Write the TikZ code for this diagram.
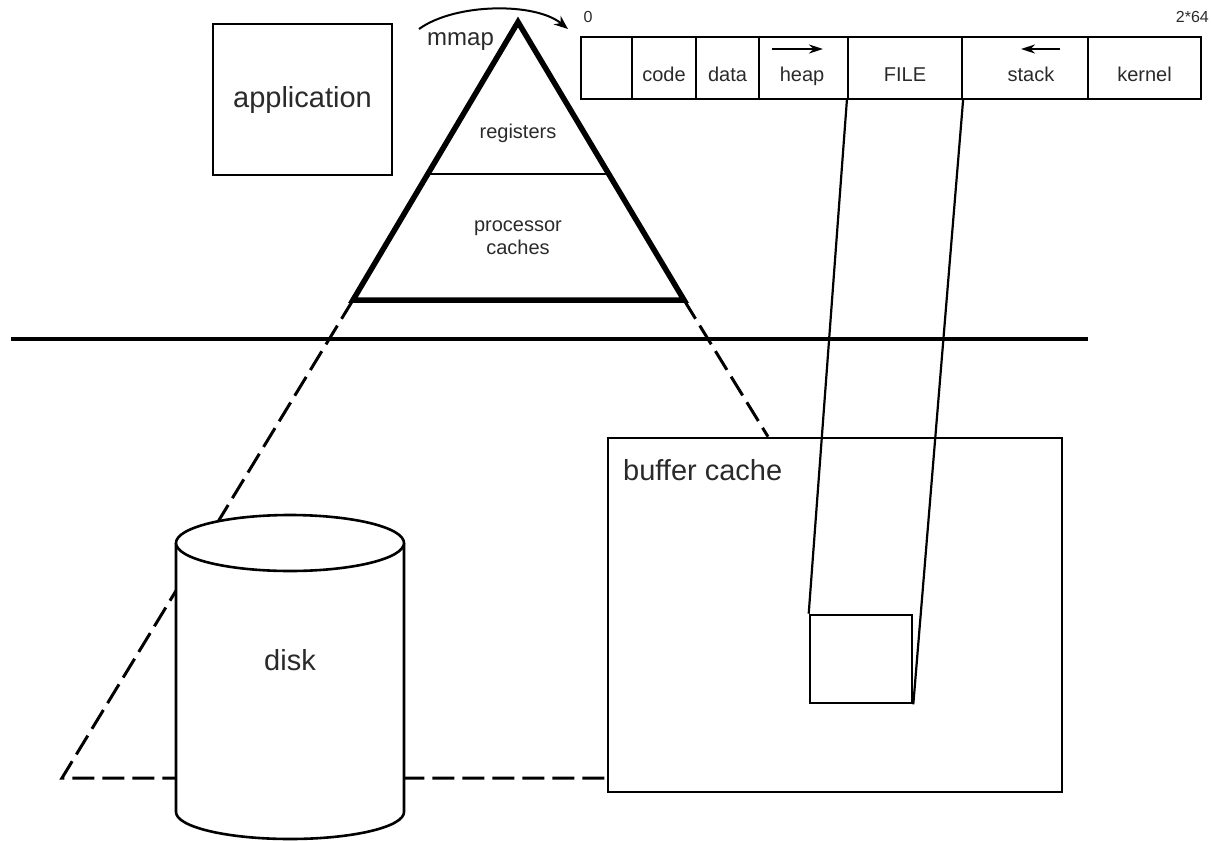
\documentclass[tikz,border=0pt]{standalone}
\usepackage{fontspec}
\setmainfont{Liberation Sans}
\usetikzlibrary{calc,arrows.meta}
\definecolor{txt}{HTML}{2A2A2A}
\begin{document}
\begin{tikzpicture}[x=1pt,y=-1pt,
  box/.style={draw=black,line width=2.6pt,inner sep=0pt,fill=white},
  cell/.style={draw=black,line width=2.2pt,inner sep=0pt,minimum height=62pt},
  lbl/.style={text=txt,inner sep=0pt},
  big/.style={lbl,font=\fontsize{29}{32}\selectfont},
  small/.style={lbl,font=\fontsize{20}{23}\selectfont},
  dsh/.style={line width=3pt,dash pattern=on 22pt off 8pt},
  thin/.style={line width=2.6pt},
  tri/.style={line width=5.5pt,line join=miter}]
\useasboundingbox (0,0) rectangle (1211,841);

% dashed projection lines (behind)
\coordinate (bl) at (353,300);
\coordinate (br) at (684,300);
\coordinate (apex) at (518,22);
\coordinate (dl) at (62,778);
\node[box,minimum width=454pt,minimum height=354pt,fill=none] (buf) at (835,615) {};
\draw[dsh] (bl) -- (dl) -- (dl -| buf.west);
\draw[dsh] (br) -- (buf.north -| 768,0);

% buffer cache
\node[big,anchor=west] (buflbl) at (623,470) {buffer cache};

% disk cylinder
\draw[thin,fill=white] (176,543) -- (176,812) arc[start angle=180,end angle=0,x radius=114,y radius=27] -- (404,543);
\draw[thin,fill=white] (290,543) ellipse[x radius=114,y radius=28];
\node[big] (disk) at (290,660) {disk};

% horizontal separator
\draw[line width=4pt] (11,339) -- (1088,339);

% application
\node[box,minimum width=179pt,minimum height=151pt] (app) at (302.5,99.5) {};
\node[big] (applbl) at (app) {application};

% pyramid
\draw[tri] (apex) -- (br) -- (bl) -- cycle;
\draw[line width=2.4pt] ($(apex)!0.547!(bl)$) -- ($(apex)!0.547!(br)$);
\node[small] (reg) at (518,133) {registers};
\node[lbl,font=\fontsize{20}{23}\selectfont,align=center] (pc) at (518,238) {processor\\caches};

% mmap arrow
\node[lbl,font=\fontsize{24}{26}\selectfont,anchor=base west] (mmap) at (427,45) {mmap};
\coordinate (ms) at (419,29);
\coordinate (me) at (568,29);
\draw[line width=2pt,-{Stealth[length=14pt,width=11pt]}] (ms) .. controls (455,3) and (535,2) .. (me);

% address space bar
\node[cell,minimum width=51pt] (c0) at (606.5,68) {};
\node[cell,minimum width=64pt] (c1) at (664,68) {};
\node[cell,minimum width=63pt] (c2) at (727.5,68) {};
\node[cell,minimum width=89pt] (c3) at (803.5,68) {};
\node[cell,minimum width=114pt] (file) at (905,68) {};
\node[cell,minimum width=126pt] (c5) at (1025,68) {};
\node[cell,minimum width=113pt] (c6) at (1144.5,68) {};
\node[small,anchor=base] at (664,81) {code};
\node[small,anchor=base] at (727.5,81) {data};
\node[small,anchor=base] at (802,81) {heap};
\node[small,anchor=base] at (905,81) {FILE};
\node[small,anchor=base] at (1031,81) {stack};
\node[small,anchor=base] at (1144.5,81) {kernel};
\coordinate (ha1) at (772,49); \coordinate (ha2) at (823,49);
\coordinate (sa1) at (1060,49); \coordinate (sa2) at (1021,49);
\draw[line width=2pt,-{Stealth[length=14pt,width=9pt]}] (ha1) -- (ha2);
\draw[line width=2pt,-{Stealth[length=14pt,width=9pt]}] (sa1) -- (sa2);
\node[lbl,font=\fontsize{16}{18}\selectfont] (zero) at (588,17) {0};
\node[lbl,font=\fontsize{16}{18}\selectfont,anchor=east] (top) at (1209,17) {2*64};

% page in buffer cache
\node[box,minimum width=102pt,minimum height=88pt] (pg) at (861,659) {};
\draw[line width=2.2pt] (file.south west) -- (pg.north west);
\draw[line width=2.2pt] (file.south east) -- (pg.south east);
\end{tikzpicture}
\end{document}
